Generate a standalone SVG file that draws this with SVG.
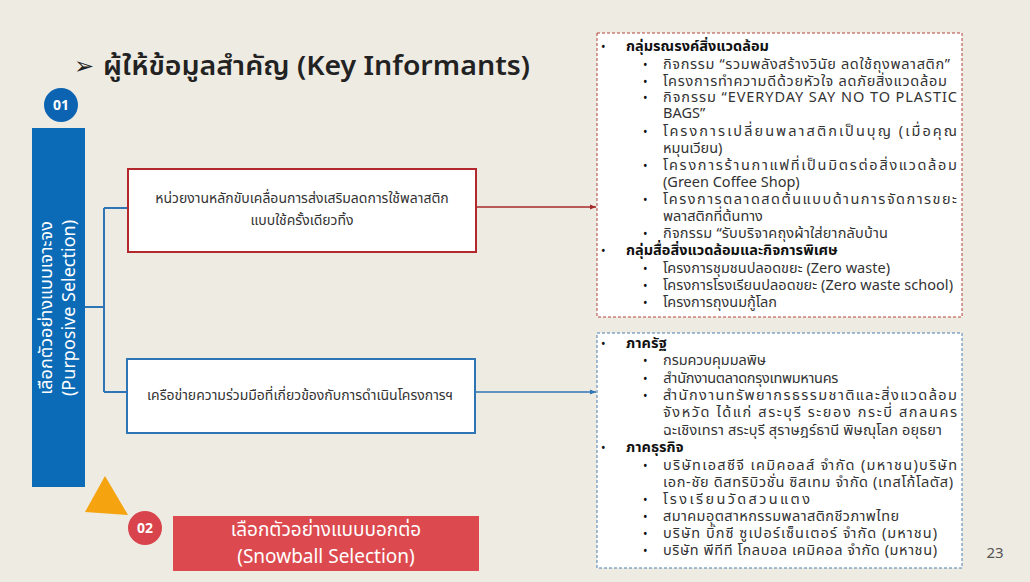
<svg xmlns="http://www.w3.org/2000/svg" width="1030" height="582" viewBox="0 0 1030 582">
<style>
text{font-family:"Noto Sans Thai","Noto Sans","DejaVu Sans",sans-serif;}
.title{font-size:27px;font-weight:600;fill:#222;}
.li{font-size:14.5px;fill:#333;}
.hd{font-size:14.5px;font-weight:700;fill:#111;}
.bx{font-size:14px;fill:#333;}
.wt{fill:#fff;}
.bul{font-size:12px;fill:#111;}
</style>
<defs>
<marker id="arR" markerWidth="8" markerHeight="8" refX="6" refY="4" orient="auto" markerUnits="userSpaceOnUse"><path d="M0,1.5 L6,4 L0,6.5 Z" fill="#A52A2A"/></marker>
<marker id="arB" markerWidth="8" markerHeight="8" refX="6" refY="4" orient="auto" markerUnits="userSpaceOnUse"><path d="M0,1.5 L6,4 L0,6.5 Z" fill="#2E75B6"/></marker>
</defs>
<rect width="1030" height="582" fill="#EEEBE3"/>

<g id="title">
<text x="74" y="74" font-size="24" fill="#222">➢</text>
<text class="title" x="103" y="75" textLength="427" lengthAdjust="spacingAndGlyphs">ผู้ให้ข้อมูลสำคัญ (Key Informants)</text>
</g>

<g id="connectors" fill="none">
<path d="M85,307 H104 M104,208 V392 M104,208 H127 M104,392 H126" stroke="#2E75B6" stroke-width="2"/>
<line x1="477" y1="207" x2="596" y2="207" stroke="#A52A2A" stroke-width="1.5" marker-end="url(#arR)"/>
<line x1="475" y1="392" x2="596" y2="392" stroke="#2E75B6" stroke-width="1.5" marker-end="url(#arB)"/>
</g>

<g id="node-01">
<circle cx="61" cy="105" r="17" fill="#0B63B1"/>
<text x="61" y="110" text-anchor="middle" class="wt" font-size="14" font-weight="700">01</text>
</g>

<g id="node-purposive">
<rect x="32" y="128" width="53" height="359" fill="#0B6BB7"/>
<text transform="translate(52,308) rotate(-90)" text-anchor="middle" class="wt" font-size="18">เลือกตัวอย่างแบบเจาะจง</text>
<text transform="translate(75,308) rotate(-90)" text-anchor="middle" class="wt" font-size="18">(Purposive Selection)</text>
</g>

<g id="node-main-agency">
<rect x="128" y="169" width="348" height="83" fill="#fff" stroke="#B3282D" stroke-width="2"/>
<text class="bx" x="302" y="203" text-anchor="middle">หน่วยงานหลักขับเคลื่อนการส่งเสริมลดการใช้พลาสติก</text>
<text class="bx" x="302" y="225" text-anchor="middle">แบบใช้ครั้งเดียวทิ้ง</text>
</g>

<g id="node-network">
<rect x="127" y="359" width="348" height="74" fill="#fff" stroke="#2E75B6" stroke-width="2"/>
<text class="bx" x="300" y="400" text-anchor="middle">เครือข่ายความร่วมมือที่เกี่ยวข้องกับการดำเนินโครงการฯ</text>
</g>

<g id="node-list-1">
<rect x="597" y="33" width="365" height="284" fill="#fff" stroke="#B4453D" stroke-width="1" stroke-dasharray="3,2"/>
<text class="bul" x="601" y="51">•</text><text class="hd" x="626" y="51">กลุ่มรณรงค์สิ่งแวดล้อม</text>
<text class="bul" x="643" y="69">•</text><text class="li" x="663" y="69" textLength="287" lengthAdjust="spacing">กิจกรรม “รวมพลังสร้างวินัย ลดใช้ถุงพลาสติก”</text>
<text class="bul" x="643" y="86">•</text><text class="li" x="663" y="86" textLength="284" lengthAdjust="spacing">โครงการทำความดีด้วยหัวใจ ลดภัยสิ่งแวดล้อม</text>
<text class="bul" x="643" y="102">•</text><text class="li" x="663" y="102" textLength="294" lengthAdjust="spacing">กิจกรรม “EVERYDAY SAY NO TO PLASTIC</text>
<text class="li" x="663" y="118">BAGS”</text>
<text class="bul" x="643" y="136">•</text><text class="li" x="663" y="136" textLength="294" lengthAdjust="spacing">โครงการเปลี่ยนพลาสติกเป็นบุญ (เมื่อคุณ</text>
<text class="li" x="663" y="153">หมุนเวียน)</text>
<text class="bul" x="643" y="170">•</text><text class="li" x="663" y="170" textLength="294" lengthAdjust="spacing">โครงการร้านกาแฟที่เป็นมิตรต่อสิ่งแวดล้อม</text>
<text class="li" x="663" y="187">(Green Coffee Shop)</text>
<text class="bul" x="643" y="204">•</text><text class="li" x="663" y="204" textLength="294" lengthAdjust="spacing">โครงการตลาดสดต้นแบบด้านการจัดการขยะ</text>
<text class="li" x="663" y="221">พลาสติกที่ต้นทาง</text>
<text class="bul" x="643" y="238">•</text><text class="li" x="663" y="238" textLength="225" lengthAdjust="spacing">กิจกรรม “รับบริจาคถุงผ้าใส่ยากลับบ้าน</text>
<text class="bul" x="601" y="255">•</text><text class="hd" x="626" y="255">กลุ่มสื่อสิ่งแวดล้อมและกิจการพิเศษ</text>
<text class="bul" x="643" y="273">•</text><text class="li" x="663" y="273" textLength="227" lengthAdjust="spacing">โครงการชุมชนปลอดขยะ (Zero waste)</text>
<text class="bul" x="643" y="290">•</text><text class="li" x="663" y="290" textLength="290" lengthAdjust="spacing">โครงการโรงเรียนปลอดขยะ (Zero waste school)</text>
<text class="bul" x="643" y="307">•</text><text class="li" x="663" y="307">โครงการถุงนมกู้โลก</text>
</g>

<g id="node-list-2">
<rect x="597" y="333" width="365" height="235" fill="#fff" stroke="#4A7FB0" stroke-width="1" stroke-dasharray="3,2"/>
<text class="bul" x="601" y="348">•</text><text class="hd" x="626" y="348">ภาครัฐ</text>
<text class="bul" x="643" y="365">•</text><text class="li" x="663" y="365" textLength="103" lengthAdjust="spacing">กรมควบคุมมลพิษ</text>
<text class="bul" x="643" y="383">•</text><text class="li" x="663" y="383" textLength="175" lengthAdjust="spacing">สำนักงานตลาดกรุงเทพมหานคร</text>
<text class="bul" x="643" y="400">•</text><text class="li" x="663" y="400" textLength="294" lengthAdjust="spacing">สำนักงานทรัพยากรธรรมชาติและสิ่งแวดล้อม</text>
<text class="li" x="663" y="417" textLength="294" lengthAdjust="spacing">จังหวัด ได้แก่ สระบุรี ระยอง กระบี่ สกลนคร</text>
<text class="li" x="663" y="435" textLength="279" lengthAdjust="spacing">ฉะเชิงเทรา สระบุรี สุราษฎร์ธานี พิษณุโลก อยุธยา</text>
<text class="bul" x="601" y="452">•</text><text class="hd" x="626" y="452">ภาคธุรกิจ</text>
<text class="bul" x="643" y="470">•</text><text class="li" x="663" y="470" textLength="294" lengthAdjust="spacing">บริษัทเอสซีจี เคมิคอลส์ จำกัด (มหาชน)บริษัท</text>
<text class="li" x="663" y="487" textLength="290" lengthAdjust="spacing">เอก-ชัย ดิสทริบิวชั่น ซิสเทม จำกัด (เทสโก้โลตัส)</text>
<text class="bul" x="643" y="504">•</text><text class="li" x="663" y="504" textLength="147" lengthAdjust="spacing">โรงเรียนวัดสวนแตง</text>
<text class="bul" x="643" y="521">•</text><text class="li" x="663" y="521" textLength="236" lengthAdjust="spacing">สมาคมอุตสาหกรรมพลาสติกชีวภาพไทย</text>
<text class="bul" x="643" y="538">•</text><text class="li" x="663" y="538" textLength="274" lengthAdjust="spacing">บริษัท บิ๊กซี ซูเปอร์เซ็นเตอร์ จำกัด (มหาชน)</text>
<text class="bul" x="643" y="555">•</text><text class="li" x="663" y="555" textLength="274" lengthAdjust="spacing">บริษัท พีทีที โกลบอล เคมิคอล จำกัด (มหาชน)</text>
</g>

<g id="pointer">
<polygon points="105,476 85,512 128,515" fill="#F5A30F"/>
</g>

<g id="node-02">
<circle cx="145" cy="528" r="17" fill="#D9434B"/>
<text x="145" y="533" text-anchor="middle" class="wt" font-size="14" font-weight="700">02</text>
</g>

<g id="node-snowball">
<rect x="173" y="516" width="306" height="55" fill="#DC4A4F"/>
<text x="326" y="536" text-anchor="middle" class="wt" font-size="19">เลือกตัวอย่างแบบบอกต่อ</text>
<text x="326" y="563" text-anchor="middle" class="wt" font-size="19">(Snowball Selection)</text>
</g>

<text x="995" y="558" text-anchor="middle" font-size="15" fill="#555">23</text>
</svg>
